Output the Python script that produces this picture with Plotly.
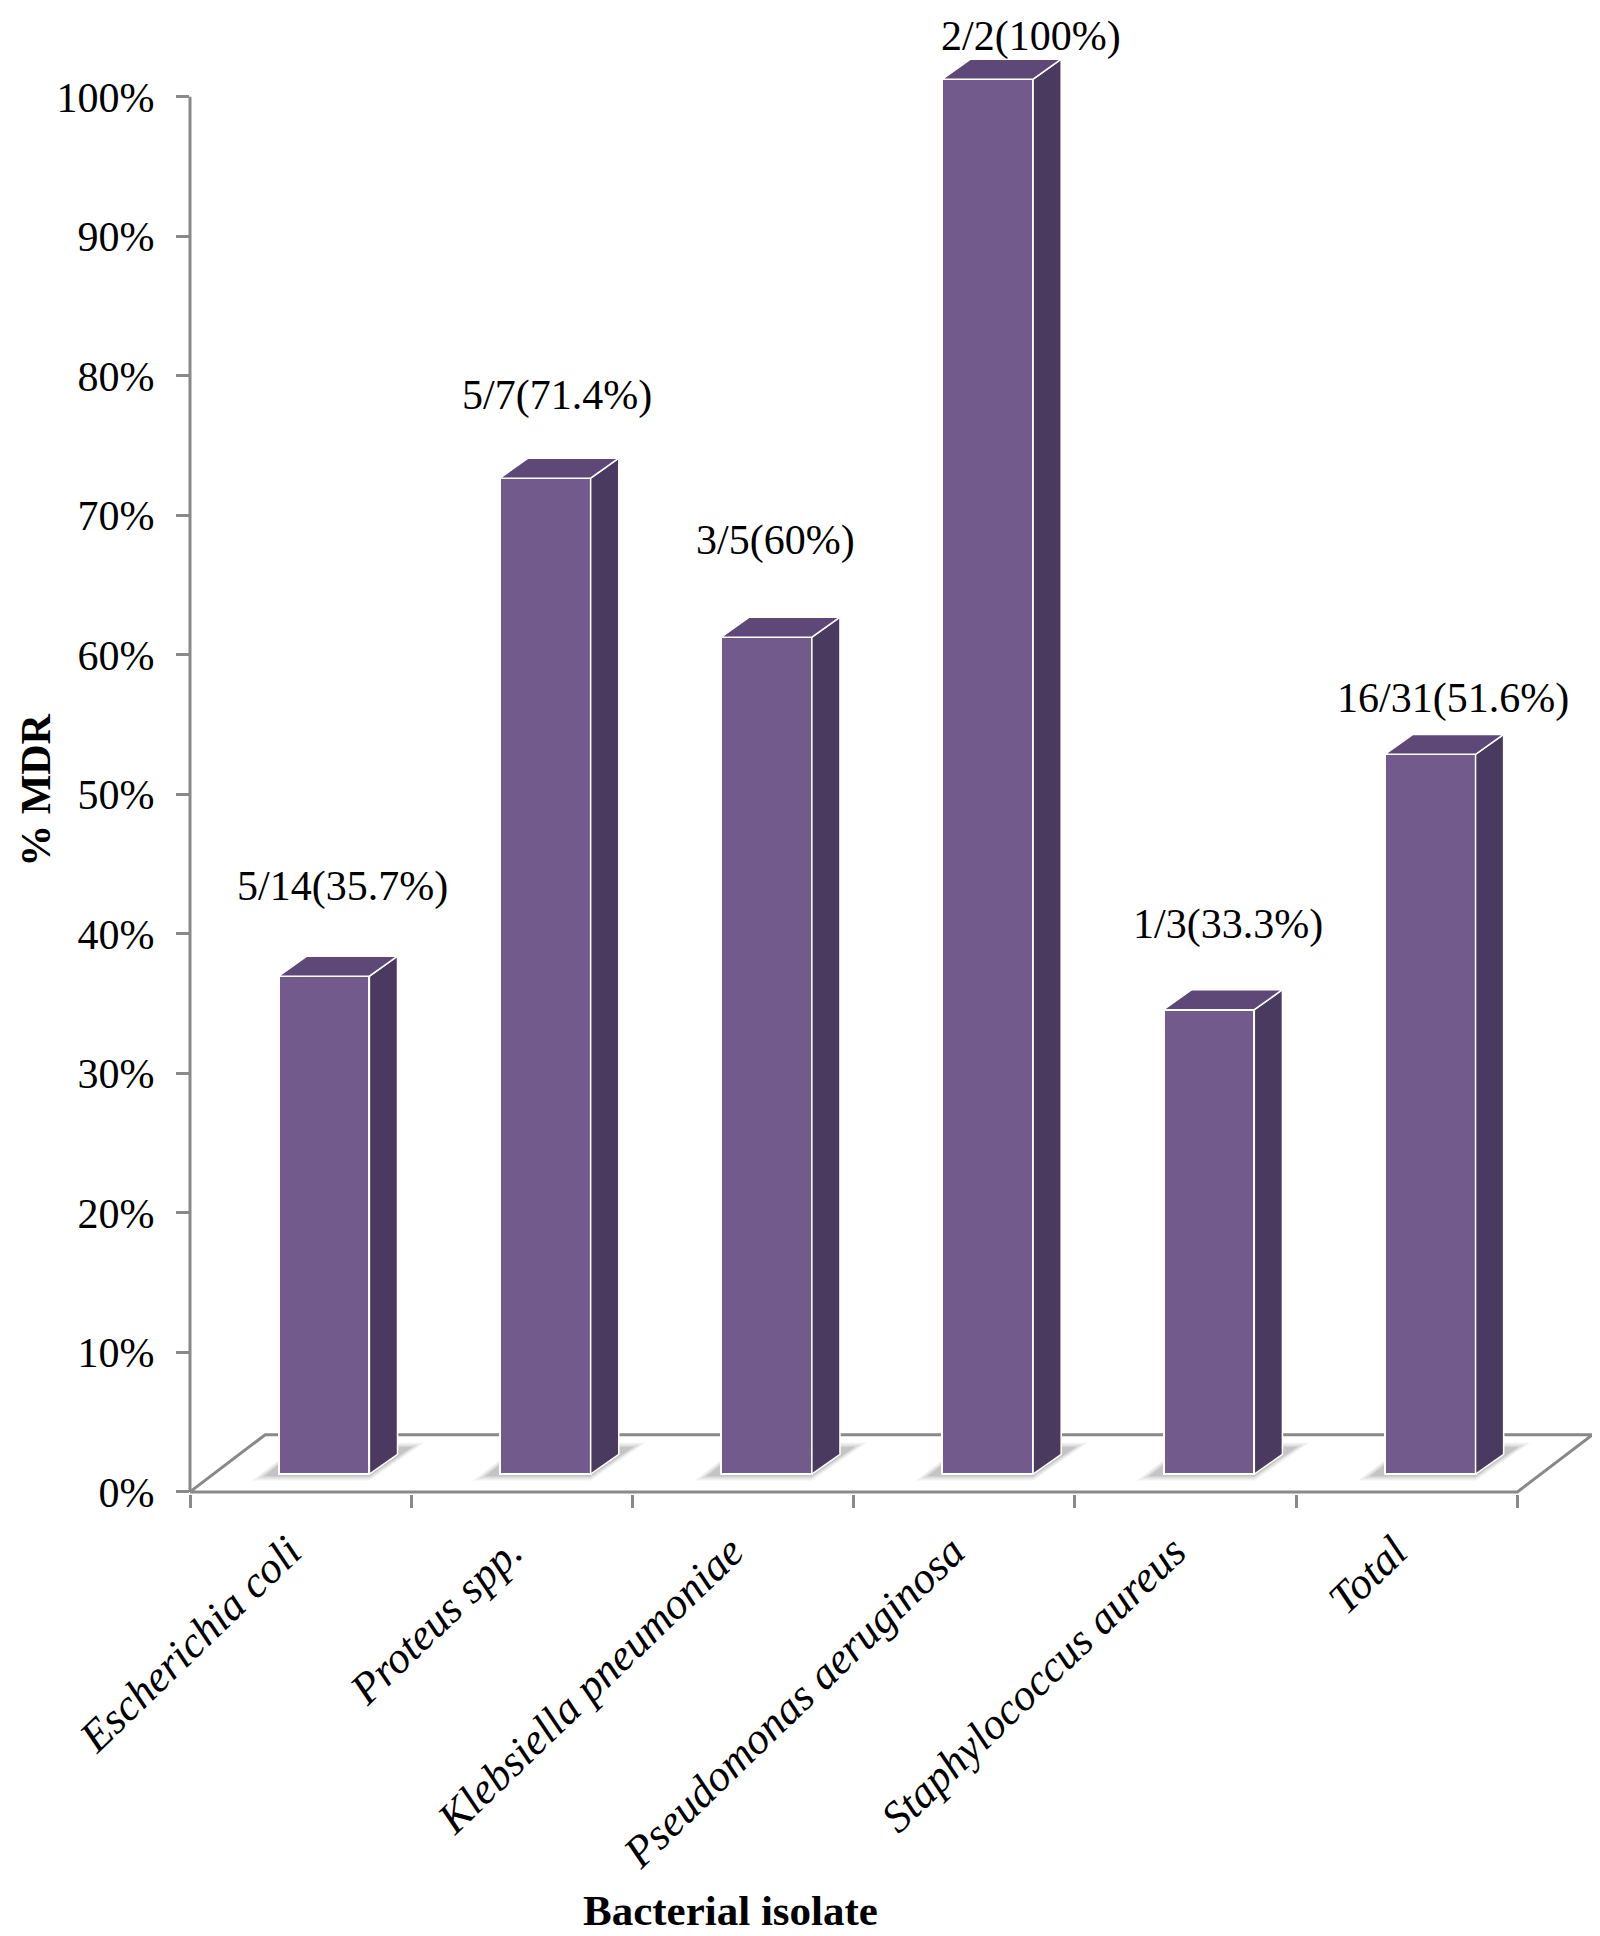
import plotly.graph_objects as go

# data
categories = [
    "Escherichia coli",
    "Proteus spp.",
    "Klebsiella pneumoniae",
    "Pseudomonas aeruginosa",
    "Staphylococcus aureus",
    "Total",
]
mdr_counts = [5, 5, 3, 2, 1, 16]
isolate_counts = [14, 7, 5, 2, 3, 31]
mdr_percent = [35.7, 71.4, 60, 100, 33.3, 51.6]
y_ticks = [0, 10, 20, 30, 40, 50, 60, 70, 80, 90, 100]

# pseudo-3D geometry (data units) and label placement tweaks
BAR_W = 0.41
FRONT_DX = 0.106
BASE = 1.27
SIDE_DX = 0.127
SIDE_DY = 1.43
FLOOR_DX = 0.34
FLOOR_DY = 4.1
label_lift = [7.7, 7.2, 8.2, 4.3, 7.4, 5.3]
label_shift = [0.02, -0.01, -0.025, 0.13, 0.02, 0.04]

FRONT = "#735A8D"
SIDE = "#4A3A5F"
TOP = "#5D4878"
GRAY = "#898989"
FONT = "Liberation Serif"

n = len(categories)
centers = [i + FRONT_DX for i in range(n)]

fig = go.Figure()

# floor of the 3D frame (front edge doubles as the x axis line) - back subplot
fig.add_trace(go.Scatter(
    x=[-0.5, n - 0.5, n - 0.5 + FLOOR_DX, -0.5 + FLOOR_DX, -0.5],
    y=[0, 0, FLOOR_DY, FLOOR_DY, 0],
    mode="lines", line=dict(color=GRAY, width=3),
    hoverinfo="skip", showlegend=False,
))

# soft shadows around each bar base (stacked translucent layers fake a blur)
for c in centers:
    xl, xr = c - BAR_W / 2, c + BAR_W / 2
    for g, a in [(0.06, 0.06), (0.035, 0.08), (0.01, 0.11)]:
        yb = BASE - 0.1 - g * 6
        yt = BASE + 1.9 + g * 6
        fig.add_trace(go.Scatter(
            x=[xl - 0.06 - g, xr, xr + SIDE_DX + 0.06 + g, xl + 0.1, xl - 0.06 - g],
            y=[yb, yb, yt, yt, yb],
            mode="lines", fill="toself", fillcolor=f"rgba(0,0,0,{a})",
            line=dict(width=0), hoverinfo="skip", showlegend=False,
        ))

# bars live on the overlay axis so they sit above floor and shadows
fig.add_trace(go.Bar(
    x=centers, y=mdr_percent, base=BASE, width=BAR_W, xaxis="x2",
    marker=dict(color=FRONT, line=dict(color="white", width=2)),
    hoverinfo="skip", showlegend=False,
))

for c, v in zip(centers, mdr_percent):
    xl, xr = c - BAR_W / 2, c + BAR_W / 2
    top = BASE + v
    fig.add_trace(go.Scatter(
        x=[xr, xr + SIDE_DX, xr + SIDE_DX, xr, xr],
        y=[BASE, BASE + SIDE_DY, top + SIDE_DY, top, BASE],
        xaxis="x2", mode="lines", fill="toself", fillcolor=SIDE,
        line=dict(color="white", width=1.5), hoverinfo="skip", showlegend=False,
    ))
    fig.add_trace(go.Scatter(
        x=[xl, xr, xr + SIDE_DX, xl + SIDE_DX, xl],
        y=[top, top, top + SIDE_DY, top + SIDE_DY, top],
        xaxis="x2", mode="lines", fill="toself", fillcolor=TOP,
        line=dict(color="white", width=1.5), hoverinfo="skip", showlegend=False,
    ))

# value labels
for i, (m, t, p) in enumerate(zip(mdr_counts, isolate_counts, mdr_percent)):
    fig.add_annotation(
        x=i + 0.17 + label_shift[i], y=p + label_lift[i],
        text=f"{m}/{t}({p:g}%)", showarrow=False,
        font=dict(family=FONT, size=42, color="black"),
        xanchor="center", yanchor="middle",
    )

x_range = [-0.5, n - 0.5 + 0.36]

fig.update_layout(
    width=1592, height=1928,
    margin=dict(l=182, r=3, t=0, b=442),
    plot_bgcolor="white", paper_bgcolor="white",
    font=dict(family=FONT, color="black"),
    bargap=0,
    xaxis=dict(
        range=x_range, tickvals=[i - 0.055 for i in range(n)],
        ticktext=[f"<i>{c}</i>" for c in categories],
        tickangle=-44, ticks="", showline=False, showgrid=False, zeroline=False,
        tickfont=dict(family=FONT, size=44, color="black"),
        ticklabelstandoff=22,
    ),
    xaxis2=dict(
        range=x_range, overlaying="x", anchor="y", side="bottom",
        tickvals=[i - 0.5 for i in range(n + 1)], showticklabels=False,
        ticks="outside", ticklen=13, tickwidth=3, tickcolor=GRAY,
        showline=False, showgrid=False, zeroline=False,
    ),
    yaxis=dict(
        range=[-0.15, 106.37], tickvals=y_ticks, ticktext=[f"{t}%" for t in y_ticks],
        ticks="outside", ticklen=13, tickwidth=3, tickcolor=GRAY,
        showline=False, showgrid=False, zeroline=False,
        tickfont=dict(family=FONT, size=42, color="black"),
        ticklabelstandoff=13,
    ),
    shapes=[dict(
        type="line", xref="paper", yref="y", x0=0, x1=0,
        y0=y_ticks[0], y1=y_ticks[-1], line=dict(color=GRAY, width=3), layer="below",
    )],
)

fig.add_annotation(
    xref="paper", yref="paper", x=-0.1095, y=0.4738, text="<b>% MDR</b>",
    textangle=-90, showarrow=False, font=dict(family=FONT, size=42, color="black"),
    xanchor="center", yanchor="middle",
)
fig.add_annotation(
    xref="paper", yref="paper", x=0.3845, y=-0.28, text="<b>Bacterial isolate</b>",
    showarrow=False, font=dict(family=FONT, size=43, color="black"),
    xanchor="center", yanchor="middle",
)

fig.write_html("out.html")
